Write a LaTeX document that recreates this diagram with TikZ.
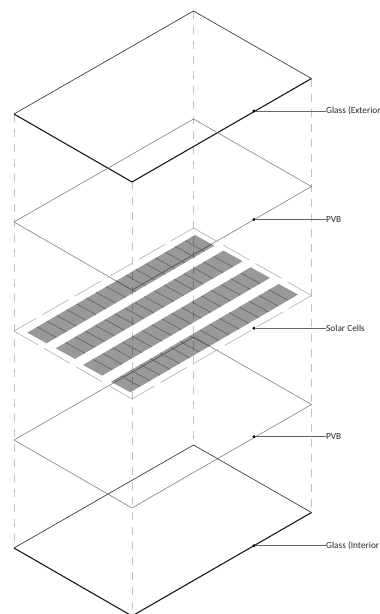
\documentclass[tikz,border=0pt]{standalone}
\usepackage{fontspec}
\setmainfont{Carlito}
\usetikzlibrary{calc}

\begin{document}
\begin{tikzpicture}[
  x=1pt, y=-1pt,
  every node/.style={font=\fontsize{9.3}{11}\selectfont, text=black!85},
  guide/.style={draw=black!24, line width=0.8pt, dash pattern=on 8pt off 7pt},
  glassback/.style={draw=black!75, line width=0.7pt},
  glassfront/.style={draw=black!90, line width=1.1pt},
  pvb/.style={draw=black!50, line width=0.6pt},
  cellborder/.style={draw=black!32, line width=0.6pt},
  longside/.style={cellborder, dash pattern=on 30pt off 7pt, dash phase=4pt},
  shortside/.style={cellborder, dash pattern=on 30pt off 7pt, dash phase=2.5pt},
  strip/.style={fill=black, fill opacity=0.4},
  divider/.style={draw=black!62, line width=0.6pt},
  dot/.style={circle, fill=black, inner sep=0pt, minimum size=3.2pt},
  leader/.style={draw=black!60, line width=0.7pt},
  tag/.style={anchor=west, inner sep=0pt}
]

\clip (0,0) rectangle (380,614);

% the five sheets
\foreach \name/\y in {gext/11, pvba/119, cells/228, pvbb/337, gint/445} {
  \coordinate (\name-back)  at (193.5,\y);
  \coordinate (\name-right) at (311.5,\y+67.5);
  \coordinate (\name-front) at (132,\y+171);
  \coordinate (\name-left)  at (14,\y+103);
}

\foreach \corner in {left, front, back, right}
  \draw[guide] (gext-\corner) -- (gint-\corner);

\draw[glassback] (gext-left) -- (gext-back) -- (gext-right);
\draw[glassfront] (gext-left) -- (gext-front) -- (gext-right);

\draw[pvb] (pvba-back) -- (pvba-right) -- (pvba-front) -- (pvba-left) -- cycle;
\draw[pvb] (pvbb-back) -- (pvbb-right) -- (pvbb-front) -- (pvbb-left) -- cycle;

\draw[longside] (cells-left) -- (cells-back);
\draw[longside] (cells-front) -- (cells-right);
\draw[shortside] (cells-left) -- (cells-front);
\draw[shortside] (cells-back) -- (cells-right);

% solar cell strips
\foreach \sx/\sy in {27.3/332.7, 55.7/348.3, 83/365, 111/381.7} {
  \coordinate (s) at (\sx,\sy);
  \fill[strip] (s) -- ++(19.3,10.6) -- ++(167.7,-97.7) -- ++(-19.3,-10.6) -- cycle;
  \foreach \i in {1,...,16}
    \draw[divider] ($(s)+\i*(9.865,-5.747)$) -- ++(19.3,10.6);
}

\draw[glassback] (gint-left) -- (gint-back) -- (gint-right);
\draw[glassfront] (gint-left) -- (gint-front) -- (gint-right);

% labels
\node[tag] (tagext) at (326,111) {Glass (Exterior};
\node[tag] (tagpvba) at (326,219.5) {PVB};
\node[tag] (tagcells) at (326,328.3) {Solar Cells};
\node[tag] (tagpvbb) at (326,436.7) {PVB};
\node[tag] (tagint) at (326,545.7) {Glass (Interior};

\node[dot] (dotext) at (254,111) {};
\node[dot] (dotpvba) at (254,219.5) {};
\node[dot] (dotcells) at (254,328.3) {};
\node[dot] (dotpvbb) at (254,436.7) {};
\node[dot] (dotint) at (254,545.7) {};

\draw[leader] (dotext) -- (tagext);
\draw[leader] (dotpvba) -- (tagpvba);
\draw[leader] (dotcells) -- (tagcells);
\draw[leader] (dotpvbb) -- (tagpvbb);
\draw[leader] (dotint) -- (tagint);

\end{tikzpicture}
\end{document}
